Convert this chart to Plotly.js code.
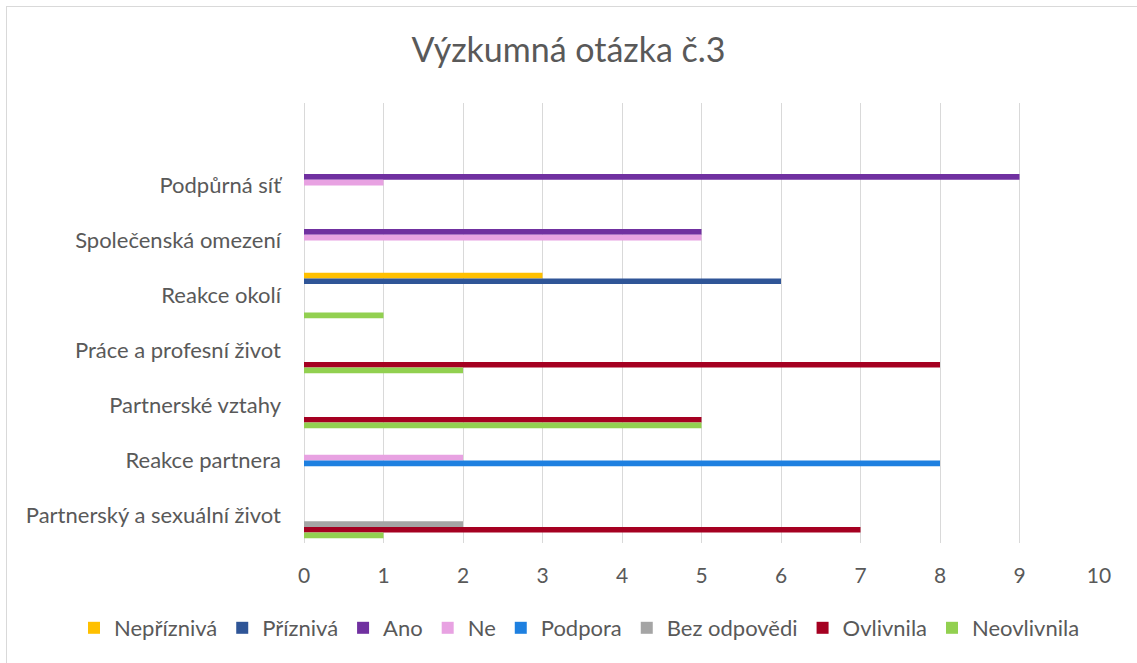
<!DOCTYPE html>
<html>
<head>
<meta charset="utf-8">
<script src="https://cdn.plot.ly/plotly-3.0.1.min.js"></script>
<style>
body{margin:0;padding:0;background:#fff;}
#chart{width:1137px;height:663px;}
#frame{position:absolute;left:6px;top:6px;width:1300px;height:800px;border-left:1.5px solid #d9d9d9;border-top:1.5px solid #d9d9d9;pointer-events:none;}
</style>
</head>
<body>
<div id="chart"></div>
<div id="frame"></div>
<script>
const categories = ['Podpůrná síť','Společenská omezení','Reakce okolí','Práce a profesní život','Partnerské vztahy','Reakce partnera','Partnerský a sexuální život'];
const seriesNames = ['Nepříznivá','Příznivá','Ano','Ne','Podpora','Bez odpovědi','Ovlivnila','Neovlivnila'];
const nepriznava  = [0,0,3,0,0,0,0];
const prizniva    = [0,0,6,0,0,0,0];
const ano         = [9,5,0,0,0,0,0];
const ne          = [1,5,0,0,0,2,0];
const podpora     = [0,0,0,0,0,8,0];
const bezOdpovedi = [0,0,0,0,0,0,2];
const ovlivnila   = [0,0,0,8,5,0,7];
const neovlivnila = [0,0,1,2,5,0,1];
const seriesValues = [nepriznava, prizniva, ano, ne, podpora, bezOdpovedi, ovlivnila, neovlivnila];
const colors = ['#FFC000','#2F5597','#7030A0','#E8A2E2','#1E80E0','#A5A5A5','#A50021','#92D050'];
const xTicks = [0,1,2,3,4,5,6,7,8,9,10];

const font = 'Lato, "Open Sans", sans-serif';
const traces = seriesNames.map((n,i)=>({
  type:'bar', orientation:'h', name:n,
  x: seriesValues[i], y: categories,
  marker:{color:colors[i], line:{width:0}},
  hoverinfo:'x+name'
}));

const layout = {
  width:1137, height:663,
  margin:{l:304, r:38, t:103, b:120},
  paper_bgcolor:'#fff', plot_bgcolor:'#fff',
  font:{family:font, color:'#595959', size:22},
  title:{text:'Výzkumná otázka č.3', font:{family:font, size:34, color:'#595959'},
         x:0.5, xref:'container', xanchor:'center', y:1-50/663, yref:'container', yanchor:'middle'},
  barmode:'group', bargap:0.17, bargroupgap:0,
  xaxis:{range:[0,10], tickvals:xTicks, ticktext:xTicks.map(String), showgrid:true, gridcolor:'#d9d9d9', gridwidth:1,
         zeroline:true, zerolinecolor:'#d9d9d9', zerolinewidth:1, showline:false, ticks:'',
         ticklabelstandoff:18, tickfont:{size:21, color:'#595959'}, fixedrange:true},
  yaxis:{type:'category', categoryorder:'array', categoryarray:categories, range:[6.5,-1.5],
         showgrid:false, zeroline:false, showline:false, ticks:'', ticklabelstandoff:22,
         tickfont:{size:22, color:'#595959'}, fixedrange:true},
  legend:{orientation:'h', xref:'paper', x:(74-304)/795, xanchor:'left', yref:'paper', y:-(628-543)/440, yanchor:'middle',
          font:{size:22, color:'#595959'}, traceorder:'normal', itemclick:false, itemwidth:30},
  showlegend:true
};
Plotly.newPlot('chart', traces, layout, {displayModeBar:false, staticPlot:true});
</script>
</body>
</html>
